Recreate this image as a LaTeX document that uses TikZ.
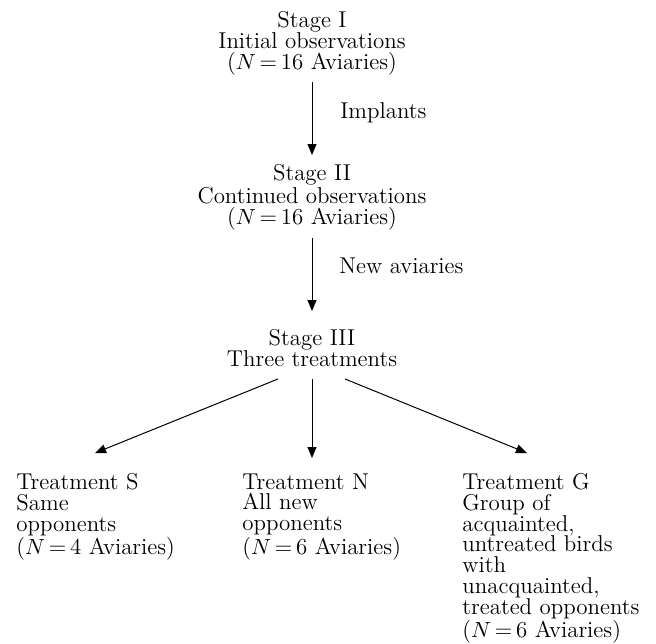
\documentclass[tikz,border=0pt]{standalone}
\usetikzlibrary{arrows.meta}
\begin{document}
\begin{tikzpicture}[x=0.5pt, y=-0.5pt, >={Triangle[length=5.5pt,width=4.5pt]},
    txt/.style={inner sep=0pt, font=\fontsize{11.45}{10.4}\selectfont},
    stagebox/.style={txt, anchor=north, align=center},
    treatbox/.style={txt, anchor=north west, align=left},
    link/.style={->, line width=0.5pt}]
    \useasboundingbox (0,0) rectangle (656,643);
    \coordinate (S1) at (312,11);
    \coordinate (S2) at (312,164);
    \coordinate (S3) at (312,329);
    \coordinate (TS) at (16,473);
    \coordinate (TN) at (242,473);
    \coordinate (TG) at (462,473);
    \node [stagebox] (st1) at (S1) {Stage I\\Initial observations\\($N$\,=\,16 Aviaries)};
    \node [stagebox] (st2) at (S2) {Stage II\\Continued observations\\($N$\,=\,16 Aviaries)};
    \node [stagebox] (st3) at (S3) {Stage III\\Three treatments};
    \node [treatbox] (trS) at (TS) {Treatment S\\Same\\opponents\\($N$\,=\,4 Aviaries)};
    \node [treatbox] (trN) at (TN) {Treatment N\\All new\\opponents\\($N$\,=\,6 Aviaries)};
    \node [treatbox] (trG) at (TG) {Treatment G\\Group of\\acquainted,\\untreated birds\\with\\unacquainted,\\treated opponents\\($N$\,=\,6 Aviaries)};
    \node [txt, anchor=base west] (imp) at (340,118) {Implants};
    \node [txt, anchor=base west] (newav) at (339,273) {New aviaries};

    \draw [link, shorten <=3.5pt, shorten >=4.5pt] (st1.south) -- (st2.north);
    \draw [link, shorten <=4pt, shorten >=9pt] (st2.south) -- (st3.north);
    \draw [link] ([xshift=-17pt,yshift=-6pt]st3.south) -- ([xshift=39.5pt,yshift=10pt]trS.north west);
    \draw [link] ([yshift=-6pt]st3.south) -- ([xshift=35pt,yshift=7.5pt]trN.north west);
    \draw [link] ([xshift=16.5pt,yshift=-6pt]st3.south) -- ([xshift=32.5pt,yshift=10pt]trG.north west);
\end{tikzpicture}
\end{document}
